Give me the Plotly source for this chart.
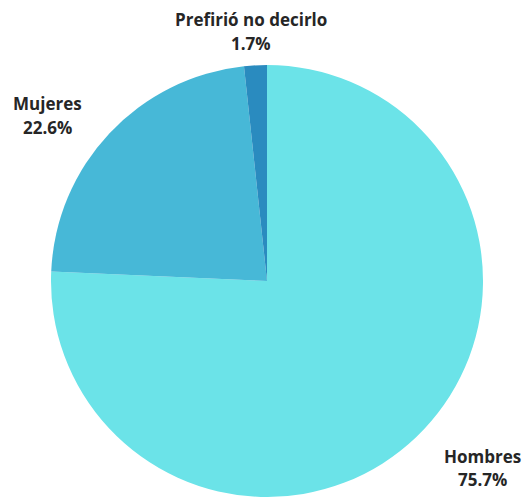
import plotly.graph_objects as go

labels = ["Hombres", "Mujeres", "Prefirió no decirlo"]
values = [75.7, 22.6, 1.7]
colors = ["#6be3e8", "#47b8d7", "#2a8bbf"]

W, H = 525, 497

fig = go.Figure(go.Pie(
    labels=labels,
    values=values,
    sort=False,
    direction="clockwise",
    rotation=0,
    marker=dict(colors=colors, line=dict(width=0)),
    textinfo="none",
    showlegend=False,
    hoverinfo="label+percent",
    domain=dict(x=[50 / W, 484 / W], y=[0, 1 - 65 / H]),
))

# label positions (pixel centers) for each category: (x, y of name line, y of value line)
label_pos = {
    "Hombres": (482, 456, 479),
    "Mujeres": (47, 103, 127),
    "Prefirió no decirlo": (251, 19, 43),
}

font = dict(family="Open Sans", size=17, color="#262626")
annotations = []
for lab, val in zip(labels, values):
    x, y1, y2 = label_pos[lab]
    annotations.append(dict(text=f"<b>{lab}</b>", x=x / W, y=1 - y1 / H,
                            xref="paper", yref="paper", showarrow=False,
                            xanchor="center", yanchor="middle", font=font))
    annotations.append(dict(text=f"<b>{val:.1f}%</b>", x=x / W, y=1 - y2 / H,
                            xref="paper", yref="paper", showarrow=False,
                            xanchor="center", yanchor="middle", font=font))

fig.update_layout(
    width=W, height=H,
    margin=dict(l=0, r=0, t=0, b=0),
    paper_bgcolor="white",
    plot_bgcolor="white",
    annotations=annotations,
)

fig.write_html("out.html", config={"displayModeBar": False},
               post_script="document.body.style.margin='0';document.body.style.overflow='hidden';")
